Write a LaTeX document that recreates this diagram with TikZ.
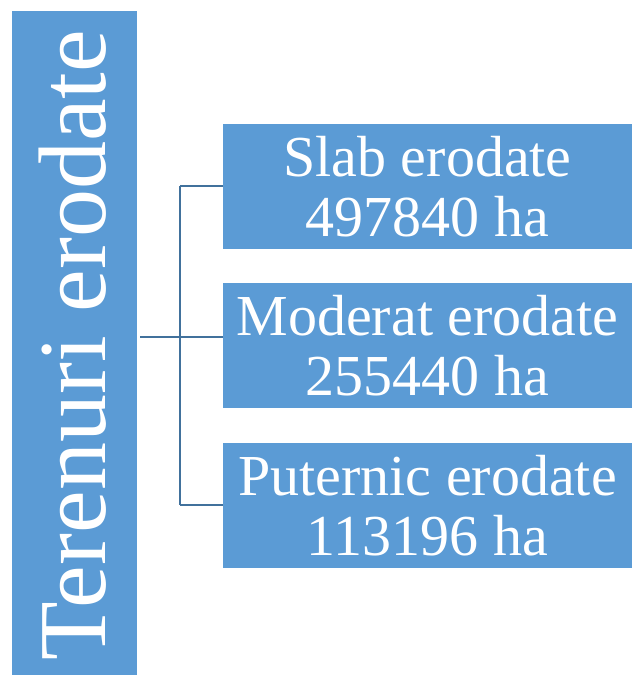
\documentclass[tikz,border=0pt]{standalone}
\usepackage{fontspec}
\setmainfont{Liberation Serif}
\definecolor{boxblue}{HTML}{5B9BD5}
\definecolor{linkblue}{HTML}{41719C}
\begin{document}
\begin{tikzpicture}[x=1pt,y=1pt,
  box/.style={fill=boxblue,draw=none,inner sep=0pt,text=white},
  leaf/.style={box,minimum width=409pt,minimum height=125pt,align=center,
    font=\fontsize{58}{60}\selectfont},
  link/.style={draw=linkblue,line width=2pt}]
\useasboundingbox (0,0) rectangle (632,675);
\node[box,minimum width=125pt,minimum height=664pt] (root) at (74.5,332) {};
\node[text=white,rotate=90,anchor=base,inner sep=0pt,font=\fontsize{96}{96}\selectfont] (roottext) at (105,330) {Terenuri erodate};
\node[leaf] (b1) at (427.5,488.5) {Slab erodate\\497840 ha};
\node[leaf] (b2) at (427.5,329) {Moderat erodate\\255440 ha};
\node[leaf] (b3) at (427.5,169.5) {Puternic erodate\\113196 ha};
\coordinate (j) at (180,338);
\draw[link] ([xshift=3pt]root.east |- j) -- (j);
\draw[link] (j |- b1.west) -- (j |- b3.west);
\draw[link] (j |- b1.west) -- (b1.west);
\draw[link] (j) -- (b2.west |- j);
\draw[link] (j |- b3.west) -- (b3.west);
\end{tikzpicture}
\end{document}
